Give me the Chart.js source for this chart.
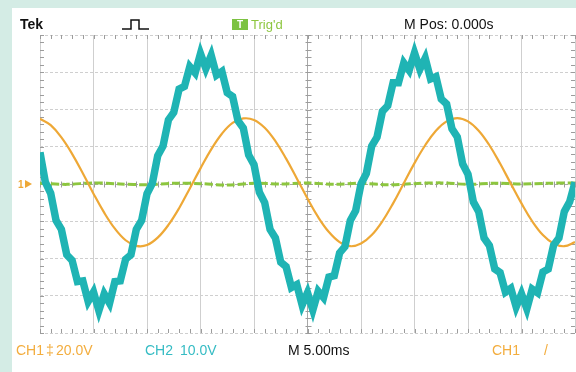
<!DOCTYPE html>
<html>
<head>
<meta charset="utf-8">
<script src="https://cdn.jsdelivr.net/npm/chart.js@4/dist/chart.umd.min.js"></script>
<style>
  html, body { margin: 0; padding: 0; background: #d4ece5; width: 576px; height: 372px; overflow: hidden; }
  #screen { position: absolute; left: 12px; top: 8px; width: 564px; height: 364px; background: #ffffff; }
  #scope { display: block; }
</style>
</head>
<body>
<div id="screen"><canvas id="scope" width="564" height="364"></canvas></div>
<script>
// --- DATA (divisions: x = time div 0..10, y = vertical div -4..4) ---
// CH2 (cyan, noisy), sampled every 0.1 div
const ch2Times = [0, 0.1, 0.2, 0.3, 0.4, 0.5, 0.6, 0.7, 0.8, 0.9, 1.0, 1.1, 1.2, 1.3, 1.4, 1.5, 1.6, 1.7, 1.8, 1.9,
  2.0, 2.1, 2.2, 2.3, 2.4, 2.5, 2.6, 2.7, 2.8, 2.9, 3.0, 3.1, 3.2, 3.3, 3.4, 3.5, 3.6, 3.7, 3.8, 3.9,
  4.0, 4.1, 4.2, 4.3, 4.4, 4.5, 4.6, 4.7, 4.8, 4.9, 5.0, 5.1, 5.2, 5.3, 5.4, 5.5, 5.6, 5.7, 5.8, 5.9,
  6.0, 6.1, 6.2, 6.3, 6.4, 6.5, 6.6, 6.7, 6.8, 6.9, 7.0, 7.1, 7.2, 7.3, 7.4, 7.5, 7.6, 7.7, 7.8, 7.9,
  8.0, 8.1, 8.2, 8.3, 8.4, 8.5, 8.6, 8.7, 8.8, 8.9, 9.0, 9.1, 9.2, 9.3, 9.4, 9.5, 9.6, 9.7, 9.8, 9.9, 10.0];
const ch2Values = [0.85, 0.05, -0.25, -0.98, -1.22, -1.90, -2.05, -2.62, -2.60, -3.15, -2.90, -3.40, -2.95, -3.20, -2.62, -2.60, -2.02, -1.90, -1.22, -0.98,
  -0.26, 0.02, 0.76, 1.02, 1.72, 1.92, 2.55, 2.62, 3.15, 2.98, 3.50, 3.10, 3.45, 2.92, 3.02, 2.45, 2.35, 1.70, 1.50, 0.78,
  0.52, -0.22, -0.50, -1.22, -1.45, -2.10, -2.22, -2.78, -2.70, -3.25, -2.92, -3.38, -2.88, -3.05, -2.50, -2.46, -1.85, -1.68, -0.98, -0.72,
  0.00, 0.28, 1.02, 1.26, 1.95, 2.10, 2.72, 2.72, 3.25, 3.05, 3.52, 3.08, 3.38, 2.82, 2.88, 2.28, 2.15, 1.48, 1.26, 0.54,
  0.26, -0.48, -0.74, -1.45, -1.65, -2.28, -2.38, -2.90, -2.80, -3.30, -2.95, -3.35, -2.82, -2.92, -2.36, -2.28, -1.64, -1.45, -0.74, -0.48, 0.05];

// CH1 (orange), sampled every 0.2 div
const ch1Times = [0, 0.2, 0.4, 0.6, 0.8, 1.0, 1.2, 1.4, 1.6, 1.8, 2.0, 2.2, 2.4, 2.6, 2.8, 3.0, 3.2, 3.4, 3.6, 3.8,
  4.0, 4.2, 4.4, 4.6, 4.8, 5.0, 5.2, 5.4, 5.6, 5.8, 6.0, 6.2, 6.4, 6.6, 6.8, 7.0, 7.2, 7.4, 7.6, 7.8,
  8.0, 8.2, 8.4, 8.6, 8.8, 9.0, 9.2, 9.4, 9.6, 9.8, 10.0];
const ch1Values = [1.75, 1.58, 1.25, 0.81, 0.29, -0.26, -0.77, -1.20, -1.51, -1.66, -1.64, -1.44, -1.10, -0.65, -0.12, 0.42, 0.93, 1.35, 1.64, 1.76,
  1.72, 1.51, 1.15, 0.68, 0.15, -0.39, -0.89, -1.29, -1.56, -1.67, -1.60, -1.37, -1.00, -0.52, 0.02, 0.56, 1.04, 1.43, 1.68, 1.77,
  1.68, 1.43, 1.04, 0.55, 0.01, -0.52, -1.00, -1.37, -1.60, -1.67, -1.56];

// green trace, almost flat
const flatTimes = [0, 0.5, 1.0, 1.5, 2.0, 2.5, 3.0, 3.5, 4.0, 4.5, 5.0, 5.5, 6.0, 6.5, 7.0, 7.5, 8.0, 8.5, 9.0, 9.5, 10.0];
const flatValues = [0.02, -0.01, 0.03, 0.00, -0.02, 0.02, 0.01, -0.03, 0.02, 0.00, 0.03, -0.01, 0.02, -0.02, 0.01, 0.03, -0.01, 0.02, 0.00, 0.02, 0.03];

const ORANGE = '#eea836';
const CYAN = '#1fb4b4';
const GREEN = '#8dc63f';

document.addEventListener('DOMContentLoaded', () => {

    const pts = (xs, ys) => xs.map((t, i) => ({ x: t, y: ys[i] }));

    // --- MINOR TICKS ON BORDERS AND CENTER LINES ---
    const scopeTicks = {
        id: 'scopeTicks',
        beforeDatasetsDraw(chart) {
            const { ctx, chartArea: a, scales: { x, y } } = chart;
            const xc = Math.round(x.getPixelForValue(5)) + 0.5;
            const yc = Math.round(y.getPixelForValue(0)) + 0.5;
            ctx.save();
            ctx.strokeStyle = '#9c9c9c';
            ctx.lineWidth = 1;
            ctx.beginPath();
            for (let k = 0; k <= 50; k++) {
                const px = Math.round(x.getPixelForValue(k * 0.2)) + 0.5;
                ctx.moveTo(px, a.top); ctx.lineTo(px, a.top + 4);
                ctx.moveTo(px, a.bottom); ctx.lineTo(px, a.bottom - 4);
                ctx.moveTo(px, yc - 3); ctx.lineTo(px, yc + 3);
            }
            for (let k = 0; k <= 40; k++) {
                const py = Math.round(y.getPixelForValue(-4 + k * 0.2)) + 0.5;
                ctx.moveTo(a.left, py); ctx.lineTo(a.left + 4, py);
                ctx.moveTo(a.right, py); ctx.lineTo(a.right - 4, py);
                ctx.moveTo(xc - 3, py); ctx.lineTo(xc + 3, py);
            }
            ctx.stroke();
            ctx.restore();
        }
    };

    // --- SCREEN TEXT ---
    const scopeText = {
        id: 'scopeText',
        afterDraw(chart) {
            const { ctx, scales: { y } } = chart;
            ctx.save();
            ctx.textBaseline = 'alphabetic';

            // top row
            ctx.fillStyle = '#111';
            ctx.font = 'bold 14px "Liberation Sans", Arial, sans-serif';
            ctx.fillText('Tek', 8, 21);

            ctx.strokeStyle = '#111';
            ctx.lineWidth = 1.5;
            ctx.beginPath();
            ctx.moveTo(110, 21); ctx.lineTo(119, 21); ctx.lineTo(119, 12);
            ctx.lineTo(127, 12); ctx.lineTo(127, 21); ctx.lineTo(137, 21);
            ctx.stroke();

            ctx.fillStyle = '#7cc242';
            ctx.fillRect(220, 11, 16, 11);
            ctx.fillStyle = '#ffffff';
            ctx.font = 'bold 10px "Liberation Sans", Arial, sans-serif';
            ctx.fillText('T', 225, 20);
            ctx.fillStyle = GREEN;
            ctx.font = '13px "Liberation Sans", Arial, sans-serif';
            ctx.fillText("Trig'd", 239, 21);

            ctx.fillStyle = '#111';
            ctx.font = '14px "Liberation Sans", Arial, sans-serif';
            ctx.fillText('M Pos: 0.000s', 392, 21);

            // ground marker for CH1
            const y0 = y.getPixelForValue(0);
            ctx.fillStyle = ORANGE;
            ctx.font = 'bold 10px "Liberation Sans", Arial, sans-serif';
            ctx.fillText('1', 6, y0 + 4);
            ctx.beginPath();
            ctx.moveTo(13, y0 - 4); ctx.lineTo(20, y0); ctx.lineTo(13, y0 + 4);
            ctx.fill();

            // bottom row
            ctx.font = '14px "Liberation Sans", Arial, sans-serif';
            ctx.fillStyle = '#f3ad3e';
            ctx.fillText('CH1', 4, 347);
            ctx.fillText('\u2021', 34, 347);
            ctx.fillText('20.0V', 44, 347);
            ctx.fillStyle = '#36bcc4';
            ctx.fillText('CH2', 133, 347);
            ctx.fillText('10.0V', 168, 347);
            ctx.fillStyle = '#111';
            ctx.fillText('M 5.00ms', 276, 347);
            ctx.fillStyle = '#f3ad3e';
            ctx.fillText('CH1', 480, 347);
            ctx.fillText('/', 532, 347);
            ctx.restore();
        }
    };

    const gridColor = (center) => (c) => (c.tick && c.tick.value === center) ? '#a8a8a8' : '#cfcfcf';

    new Chart(document.getElementById('scope').getContext('2d'), {
        type: 'line',
        data: {
            datasets: [
                {
                    label: 'CH2',
                    data: pts(ch2Times, ch2Values),
                    borderColor: CYAN,
                    borderWidth: 7.5,
                    tension: 0,
                    pointRadius: 0,
                    borderJoinStyle: 'miter'
                },
                {
                    label: 'CH1',
                    data: pts(ch1Times, ch1Values),
                    borderColor: ORANGE,
                    borderWidth: 2.2,
                    tension: 0.4,
                    pointRadius: 0
                },
                {
                    label: 'Trig',
                    data: pts(flatTimes, flatValues),
                    borderColor: GREEN,
                    borderWidth: 3,
                    borderDash: [8, 3],
                    tension: 0.3,
                    pointRadius: 0
                }
            ]
        },
        options: {
            responsive: false,
            animation: false,
            layout: { padding: { left: 28, right: 1, top: 27, bottom: 39 } },
            plugins: { legend: { display: false }, tooltip: { enabled: false } },
            scales: {
                x: {
                    type: 'linear', min: 0, max: 10,
                    ticks: { display: false, stepSize: 1 },
                    grid: { color: gridColor(5), drawTicks: false, lineWidth: 1 },
                    border: { display: false }
                },
                y: {
                    type: 'linear', min: -4, max: 4,
                    ticks: { display: false, stepSize: 1 },
                    grid: { color: gridColor(0), drawTicks: false, lineWidth: 1 },
                    border: { display: false, dash: [3, 2] }
                }
            }
        },
        plugins: [scopeTicks, scopeText]
    });
});
</script>
</body>
</html>
